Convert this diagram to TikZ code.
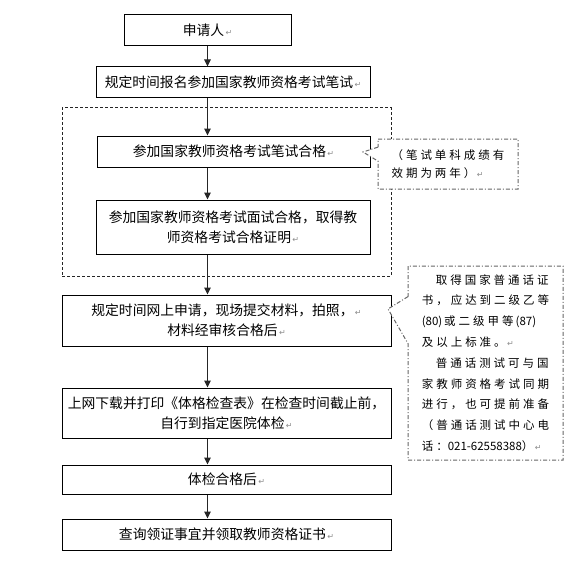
\documentclass[tikz,border=0pt]{standalone}
\usepackage{fontspec}
\setmainfont{Noto Sans CJK SC}
\newfontfamily\notefont[LetterSpace=26]{Noto Sans CJK SC}
\newfontfamily\plainfont{Noto Sans CJK SC}
\newfontfamily\markfont{DejaVu Sans}
\usepackage{tikz}
\usetikzlibrary{arrows.meta,shapes.callouts}
\newcommand{\retmark}{{\markfont\fontsize{8}{8}\selectfont\color{black!45}\,↵}}

\begin{document}
\begin{tikzpicture}[x=1pt, y=-1pt, box/.style={draw, line width=1pt, fill=white, align=center, inner sep=2pt, font=\fontsize{13.8}{20}\selectfont}, grpbox/.style={draw=black!85, line width=1pt, dash pattern=on 3pt off 2pt}, note/.style={rectangle callout, draw=black!60, line width=1pt, dash pattern=on 4pt off 2pt on 1pt off 2pt, fill=white, align=left, inner sep=0pt}, arrow/.style={-{Triangle[length=7pt,width=6.5pt]}, line width=1pt, black!85}]
\useasboundingbox (0,0) rectangle (574,575);
\node[grpbox, minimum width=329pt, minimum height=168pt] (grp) at (226.5,192) {};
\node[box, minimum width=167pt, minimum height=31pt] (app) at (207.5,30.5) {申请人\retmark};
\node[box, minimum width=274pt, minimum height=31pt] (signup) at (233,82.5) {规定时间报名参加国家教师资格考试笔试\retmark};
\node[box, minimum width=273pt, minimum height=31pt] (written) at (233.5,151.5) {参加国家教师资格考试笔试合格\retmark};
\node[box, minimum width=274pt, minimum height=54pt] (interview) at (233,227) {参加国家教师资格考试面试合格，取得教\\ 师资格考试合格证明\retmark};
\node[box, minimum width=329pt, minimum height=51pt] (online) at (226.5,320.5) {规定时间网上申请，现场提交材料，拍照，\retmark\\ 材料经审核合格后\retmark};
\node[box, minimum width=329pt, minimum height=50pt] (physform) at (226.5,413) {上网下载并打印《体格检查表》在检查时间截止前，\\ 自行到指定医院体检\retmark};
\node[box, minimum width=329pt, minimum height=29pt] (physok) at (226.5,479.5) {体检合格后\retmark};
\node[box, minimum width=329pt, minimum height=31pt] (cert) at (226.5,534.5) {查询领证事宜并领取教师资格证书\retmark};
\node[note, minimum width=140pt, minimum height=50pt, callout absolute pointer={(363,152)}, callout pointer width=14pt, font=\notefont\fontsize{11.5}{18}\selectfont] (note1) at (448,164) {（笔试单科成绩有\\ 效期为两年）\retmark};
\node[note, minimum width=155pt, minimum height=194pt, callout absolute pointer={(388,309)}, callout pointer width=47pt, font=\notefont\fontsize{11.5}{20.8}\selectfont] (note2) at (485.5,363) {\hspace*{14pt}取得国家普通话证\\ 书，应达到二级乙等\\ {\plainfont(80)}\,或二级甲等\,{\plainfont(87)}\\ 及以上标准。\retmark\\ \hspace*{14pt}普通话测试可与国\\ 家教师资格考试同期\\ 进行，也可提前准备\\ （普通话测试中心电\\ 话：{\plainfont 021-62558388}）\retmark};
\draw[arrow] (app) -- (app |- signup.north);
\draw[arrow] (signup.south -| app) -- (written.north -| app);
\draw[arrow] (written.south -| app) -- (interview.north -| app);
\draw[arrow] (interview.south -| app) -- (online.north -| app);
\draw[arrow] (online.south -| app) -- (physform.north -| app);
\draw[arrow] (physform.south -| app) -- (physok.north -| app);
\draw[arrow] (physok.south -| app) -- (cert.north -| app);
\end{tikzpicture}
\end{document}
